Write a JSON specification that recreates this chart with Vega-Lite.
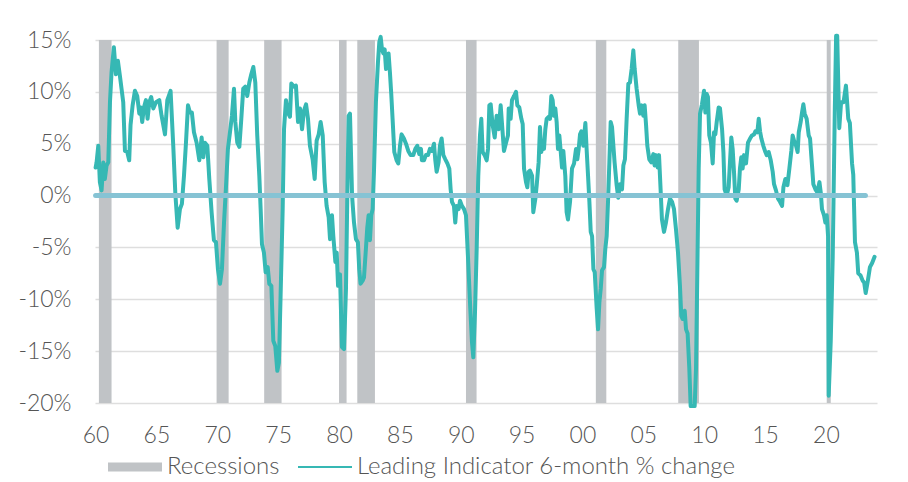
{
  "$schema": "https://vega.github.io/schema/vega-lite/v6.json",
  "width": 782,
  "height": 363,
  "autosize": "none",
  "padding": {"left": 95, "top": 40, "right": 31, "bottom": 79},
  "background": "white",
  "config": {
    "view": {"stroke": null},
    "font": "Lato",
    "axis": {"labelFont": "Lato", "labelFontWeight": 300, "labelColor": "#555555", "labelFontSize": 23},
    "legend": {"labelFont": "Lato", "labelFontWeight": 300}
  },
  "datasets": {
    "recessions": [
      {"start": 1960.27, "end": 1961.31},
      {"start": 1969.94, "end": 1970.93},
      {"start": 1973.85, "end": 1975.28},
      {"start": 1980.0, "end": 1980.62},
      {"start": 1981.5, "end": 1982.95},
      {"start": 1990.43, "end": 1991.3},
      {"start": 2001.1, "end": 2001.96},
      {"start": 2007.87, "end": 2009.57},
      {"start": 2020.07, "end": 2020.4}
    ],
    "lei": [
      {"t": 1960.0, "v": 2.7}, {"t": 1960.08, "v": 3.2}, {"t": 1960.22, "v": 4.8}, {"t": 1960.35, "v": 1.3},
      {"t": 1960.49, "v": 0.5}, {"t": 1960.63, "v": 3.2}, {"t": 1960.76, "v": 1.6}, {"t": 1960.9, "v": 2.9},
      {"t": 1961.04, "v": 3.2}, {"t": 1961.18, "v": 9.0}, {"t": 1961.31, "v": 11.9}, {"t": 1961.5, "v": 14.3},
      {"t": 1961.67, "v": 11.7}, {"t": 1961.83, "v": 13.0}, {"t": 1961.99, "v": 11.6}, {"t": 1962.13, "v": 10.3},
      {"t": 1962.27, "v": 9.0}, {"t": 1962.41, "v": 4.3}, {"t": 1962.6, "v": 4.2}, {"t": 1962.76, "v": 3.4},
      {"t": 1962.87, "v": 6.8}, {"t": 1963.04, "v": 8.7}, {"t": 1963.23, "v": 10.1}, {"t": 1963.42, "v": 9.6},
      {"t": 1963.59, "v": 7.9}, {"t": 1963.7, "v": 8.5}, {"t": 1963.83, "v": 7.1}, {"t": 1963.97, "v": 8.5},
      {"t": 1964.13, "v": 9.2}, {"t": 1964.27, "v": 7.4}, {"t": 1964.41, "v": 9.0}, {"t": 1964.57, "v": 9.5},
      {"t": 1964.74, "v": 8.4}, {"t": 1964.96, "v": 9.0}, {"t": 1965.23, "v": 9.2}, {"t": 1965.42, "v": 7.7},
      {"t": 1965.7, "v": 5.9}, {"t": 1965.89, "v": 9.2}, {"t": 1966.16, "v": 10.1}, {"t": 1966.38, "v": 4.8},
      {"t": 1966.55, "v": 0.2}, {"t": 1966.74, "v": -3.1}, {"t": 1966.93, "v": -1.3}, {"t": 1967.09, "v": -0.8},
      {"t": 1967.26, "v": 1.9}, {"t": 1967.42, "v": 5.0}, {"t": 1967.59, "v": 8.7}, {"t": 1967.75, "v": 8.0},
      {"t": 1967.91, "v": 8.0}, {"t": 1968.08, "v": 6.1}, {"t": 1968.3, "v": 5.1}, {"t": 1968.52, "v": 3.4},
      {"t": 1968.71, "v": 5.6}, {"t": 1968.85, "v": 3.7}, {"t": 1968.98, "v": 5.1}, {"t": 1969.18, "v": 4.8},
      {"t": 1969.34, "v": 1.6}, {"t": 1969.53, "v": -1.6}, {"t": 1969.72, "v": -4.3}, {"t": 1969.89, "v": -4.5},
      {"t": 1970.05, "v": -7.1}, {"t": 1970.22, "v": -8.5}, {"t": 1970.38, "v": -7.1}, {"t": 1970.55, "v": -2.6},
      {"t": 1970.71, "v": 0.8}, {"t": 1970.87, "v": 4.5}, {"t": 1971.04, "v": 6.1}, {"t": 1971.2, "v": 7.7},
      {"t": 1971.37, "v": 10.3}, {"t": 1971.48, "v": 7.1}, {"t": 1971.64, "v": 5.1}, {"t": 1971.81, "v": 4.7},
      {"t": 1971.97, "v": 7.4}, {"t": 1972.13, "v": 10.3}, {"t": 1972.3, "v": 10.5}, {"t": 1972.46, "v": 9.6},
      {"t": 1972.63, "v": 10.9}, {"t": 1972.79, "v": 11.7}, {"t": 1972.96, "v": 12.4}, {"t": 1973.12, "v": 10.9},
      {"t": 1973.28, "v": 5.8}, {"t": 1973.45, "v": 1.9}, {"t": 1973.56, "v": -1.3}, {"t": 1973.67, "v": -4.7},
      {"t": 1973.83, "v": -5.5}, {"t": 1973.97, "v": -7.4}, {"t": 1974.14, "v": -6.9}, {"t": 1974.27, "v": -8.5},
      {"t": 1974.44, "v": -8.7}, {"t": 1974.6, "v": -14.0}, {"t": 1974.76, "v": -14.5}, {"t": 1974.93, "v": -16.9},
      {"t": 1975.06, "v": -16.1}, {"t": 1975.2, "v": -9.6}, {"t": 1975.37, "v": -1.3}, {"t": 1975.48, "v": 6.4},
      {"t": 1975.64, "v": 9.2}, {"t": 1975.8, "v": 8.0}, {"t": 1975.97, "v": 7.6}, {"t": 1976.08, "v": 10.8},
      {"t": 1976.3, "v": 10.5}, {"t": 1976.46, "v": 10.6}, {"t": 1976.63, "v": 7.1}, {"t": 1976.79, "v": 8.4},
      {"t": 1976.96, "v": 6.4}, {"t": 1977.12, "v": 8.2}, {"t": 1977.29, "v": 8.8}, {"t": 1977.45, "v": 7.4},
      {"t": 1977.61, "v": 4.8}, {"t": 1977.83, "v": 3.5}, {"t": 1978.0, "v": 1.6}, {"t": 1978.16, "v": 5.3},
      {"t": 1978.33, "v": 5.9}, {"t": 1978.49, "v": 7.1}, {"t": 1978.66, "v": 5.8}, {"t": 1978.82, "v": 1.3},
      {"t": 1978.98, "v": -1.0}, {"t": 1979.15, "v": -2.1}, {"t": 1979.26, "v": -4.2}, {"t": 1979.42, "v": -1.9},
      {"t": 1979.53, "v": -3.9}, {"t": 1979.7, "v": -6.4}, {"t": 1979.81, "v": -5.5}, {"t": 1979.92, "v": -8.7},
      {"t": 1980.08, "v": -7.6}, {"t": 1980.24, "v": -14.6}, {"t": 1980.41, "v": -14.8}, {"t": 1980.57, "v": -9.0},
      {"t": 1980.68, "v": 0.0}, {"t": 1980.79, "v": 7.7}, {"t": 1980.9, "v": 7.9}, {"t": 1981.07, "v": 0.0},
      {"t": 1981.23, "v": -2.6}, {"t": 1981.39, "v": -4.2}, {"t": 1981.55, "v": -4.5}, {"t": 1981.66, "v": -7.1},
      {"t": 1981.77, "v": -8.5}, {"t": 1981.94, "v": -8.2}, {"t": 1982.05, "v": -7.9}, {"t": 1982.21, "v": -5.1},
      {"t": 1982.32, "v": -3.1}, {"t": 1982.43, "v": -1.9}, {"t": 1982.54, "v": -4.3}, {"t": 1982.65, "v": -1.9},
      {"t": 1982.76, "v": -1.3}, {"t": 1982.87, "v": 2.3}, {"t": 1983.03, "v": 9.0}, {"t": 1983.2, "v": 12.9},
      {"t": 1983.31, "v": 14.8}, {"t": 1983.42, "v": 15.3}, {"t": 1983.53, "v": 14.1}, {"t": 1983.64, "v": 13.7},
      {"t": 1983.75, "v": 14.1}, {"t": 1983.86, "v": 12.2}, {"t": 1983.96, "v": 12.7}, {"t": 1984.07, "v": 13.7},
      {"t": 1984.18, "v": 11.9}, {"t": 1984.29, "v": 9.8}, {"t": 1984.4, "v": 7.4}, {"t": 1984.54, "v": 4.2},
      {"t": 1984.73, "v": 3.4}, {"t": 1984.87, "v": 3.1}, {"t": 1985.01, "v": 4.8}, {"t": 1985.14, "v": 5.9},
      {"t": 1985.33, "v": 5.5}, {"t": 1985.5, "v": 5.0}, {"t": 1985.69, "v": 4.3}, {"t": 1985.88, "v": 3.9},
      {"t": 1986.1, "v": 3.9}, {"t": 1986.27, "v": 4.5}, {"t": 1986.43, "v": 4.8}, {"t": 1986.59, "v": 4.0},
      {"t": 1986.73, "v": 4.5}, {"t": 1986.81, "v": 3.4}, {"t": 1986.98, "v": 3.4}, {"t": 1987.14, "v": 3.9},
      {"t": 1987.31, "v": 3.9}, {"t": 1987.47, "v": 4.5}, {"t": 1987.64, "v": 4.3}, {"t": 1987.8, "v": 5.0},
      {"t": 1987.91, "v": 3.4}, {"t": 1988.02, "v": 2.3}, {"t": 1988.18, "v": 3.2}, {"t": 1988.29, "v": 4.8},
      {"t": 1988.43, "v": 5.5}, {"t": 1988.57, "v": 3.9}, {"t": 1988.73, "v": 3.5}, {"t": 1988.9, "v": 3.1},
      {"t": 1989.06, "v": 2.6}, {"t": 1989.17, "v": 0.6}, {"t": 1989.28, "v": -0.6}, {"t": 1989.44, "v": -1.0},
      {"t": 1989.55, "v": -2.6}, {"t": 1989.66, "v": -1.0}, {"t": 1989.83, "v": -1.3}, {"t": 1989.94, "v": -0.5},
      {"t": 1990.1, "v": -1.0}, {"t": 1990.27, "v": -1.3}, {"t": 1990.43, "v": -1.9}, {"t": 1990.59, "v": -5.8},
      {"t": 1990.76, "v": -10.3}, {"t": 1990.92, "v": -14.1}, {"t": 1991.03, "v": -15.6}, {"t": 1991.17, "v": -11.3},
      {"t": 1991.31, "v": -5.1}, {"t": 1991.44, "v": 1.9}, {"t": 1991.58, "v": 5.8}, {"t": 1991.69, "v": 7.4},
      {"t": 1991.8, "v": 4.2}, {"t": 1991.96, "v": 3.9}, {"t": 1992.13, "v": 3.4}, {"t": 1992.24, "v": 4.5},
      {"t": 1992.35, "v": 8.7}, {"t": 1992.46, "v": 8.8}, {"t": 1992.62, "v": 6.8}, {"t": 1992.79, "v": 5.6},
      {"t": 1992.95, "v": 7.7}, {"t": 1993.12, "v": 6.4}, {"t": 1993.28, "v": 8.7}, {"t": 1993.44, "v": 6.1},
      {"t": 1993.55, "v": 4.3}, {"t": 1993.72, "v": 5.1}, {"t": 1993.88, "v": 5.8}, {"t": 1993.94, "v": 8.4},
      {"t": 1994.1, "v": 7.4}, {"t": 1994.21, "v": 9.2}, {"t": 1994.38, "v": 9.6}, {"t": 1994.54, "v": 10.0},
      {"t": 1994.65, "v": 8.7}, {"t": 1994.81, "v": 8.5}, {"t": 1994.98, "v": 7.4}, {"t": 1995.09, "v": 6.9},
      {"t": 1995.2, "v": 2.6}, {"t": 1995.36, "v": 1.3}, {"t": 1995.47, "v": 0.8}, {"t": 1995.58, "v": 2.3},
      {"t": 1995.69, "v": 2.4}, {"t": 1995.86, "v": 1.9}, {"t": 1995.96, "v": -1.6}, {"t": 1996.13, "v": -0.3},
      {"t": 1996.24, "v": 1.0}, {"t": 1996.4, "v": 3.2}, {"t": 1996.51, "v": 6.6}, {"t": 1996.62, "v": 4.2},
      {"t": 1996.73, "v": 5.1}, {"t": 1996.84, "v": 4.5}, {"t": 1996.95, "v": 6.4}, {"t": 1997.06, "v": 7.4},
      {"t": 1997.22, "v": 7.6}, {"t": 1997.33, "v": 7.4}, {"t": 1997.44, "v": 9.6}, {"t": 1997.55, "v": 9.2},
      {"t": 1997.66, "v": 7.7}, {"t": 1997.77, "v": 8.4}, {"t": 1997.88, "v": 7.1}, {"t": 1997.99, "v": 4.5},
      {"t": 1998.1, "v": 5.8}, {"t": 1998.21, "v": 4.3}, {"t": 1998.32, "v": 2.7}, {"t": 1998.43, "v": 4.3},
      {"t": 1998.59, "v": 1.9}, {"t": 1998.7, "v": -1.6}, {"t": 1998.81, "v": -2.3}, {"t": 1998.98, "v": -0.6},
      {"t": 1999.14, "v": 2.6}, {"t": 1999.31, "v": 3.1}, {"t": 1999.47, "v": 4.5}, {"t": 1999.58, "v": 3.5},
      {"t": 1999.69, "v": 4.5}, {"t": 1999.8, "v": 5.9}, {"t": 1999.91, "v": 6.2}, {"t": 2000.07, "v": 4.8},
      {"t": 2000.24, "v": 7.0}, {"t": 2000.35, "v": 4.3}, {"t": 2000.46, "v": 1.9}, {"t": 2000.57, "v": -0.6},
      {"t": 2000.68, "v": -3.5}, {"t": 2000.79, "v": -3.9}, {"t": 2000.9, "v": -7.1}, {"t": 2001.01, "v": -7.4},
      {"t": 2001.17, "v": -10.9}, {"t": 2001.28, "v": -12.9}, {"t": 2001.39, "v": -10.3}, {"t": 2001.5, "v": -9.0},
      {"t": 2001.61, "v": -7.2}, {"t": 2001.77, "v": -6.9}, {"t": 2001.88, "v": -5.1}, {"t": 2001.99, "v": -3.9},
      {"t": 2002.1, "v": -0.6}, {"t": 2002.21, "v": 3.2}, {"t": 2002.32, "v": 7.1}, {"t": 2002.43, "v": 6.6},
      {"t": 2002.64, "v": 3.2}, {"t": 2002.81, "v": 1.0}, {"t": 2002.94, "v": -0.2}, {"t": 2003.08, "v": 1.1},
      {"t": 2003.25, "v": 0.6}, {"t": 2003.36, "v": 2.9}, {"t": 2003.49, "v": 3.5}, {"t": 2003.63, "v": 7.4},
      {"t": 2003.77, "v": 10.8}, {"t": 2003.9, "v": 10.9}, {"t": 2004.04, "v": 12.2}, {"t": 2004.18, "v": 14.0},
      {"t": 2004.29, "v": 12.2}, {"t": 2004.45, "v": 10.3}, {"t": 2004.62, "v": 8.7}, {"t": 2004.73, "v": 7.9},
      {"t": 2004.86, "v": 8.7}, {"t": 2005.0, "v": 7.7}, {"t": 2005.11, "v": 8.7}, {"t": 2005.22, "v": 6.9},
      {"t": 2005.33, "v": 4.8}, {"t": 2005.49, "v": 3.5}, {"t": 2005.66, "v": 3.2}, {"t": 2005.82, "v": 4.0},
      {"t": 2005.93, "v": 2.9}, {"t": 2006.04, "v": 3.9}, {"t": 2006.18, "v": 2.7}, {"t": 2006.29, "v": 3.9},
      {"t": 2006.42, "v": 0.6}, {"t": 2006.53, "v": -2.3}, {"t": 2006.7, "v": -3.5}, {"t": 2006.86, "v": -2.6},
      {"t": 2007.03, "v": -1.3}, {"t": 2007.19, "v": -0.3}, {"t": 2007.36, "v": -0.6}, {"t": 2007.52, "v": -1.3},
      {"t": 2007.68, "v": -3.2}, {"t": 2007.85, "v": -5.5}, {"t": 2008.01, "v": -8.7}, {"t": 2008.12, "v": -11.6},
      {"t": 2008.23, "v": -11.9}, {"t": 2008.4, "v": -11.1}, {"t": 2008.51, "v": -12.9}, {"t": 2008.64, "v": -13.3},
      {"t": 2008.78, "v": -16.7}, {"t": 2008.89, "v": -20.3}, {"t": 2009.05, "v": -20.3}, {"t": 2009.22, "v": -20.3},
      {"t": 2009.33, "v": -16.7}, {"t": 2009.44, "v": -7.1}, {"t": 2009.55, "v": 2.6}, {"t": 2009.66, "v": 7.9},
      {"t": 2009.82, "v": 8.8}, {"t": 2009.99, "v": 10.1}, {"t": 2010.1, "v": 8.0}, {"t": 2010.21, "v": 9.8},
      {"t": 2010.31, "v": 9.5}, {"t": 2010.42, "v": 5.8}, {"t": 2010.56, "v": 5.1}, {"t": 2010.7, "v": 3.1},
      {"t": 2010.81, "v": 6.1}, {"t": 2010.92, "v": 5.9}, {"t": 2011.03, "v": 7.1}, {"t": 2011.19, "v": 8.5},
      {"t": 2011.3, "v": 8.4}, {"t": 2011.47, "v": 6.4}, {"t": 2011.58, "v": 4.2}, {"t": 2011.68, "v": 0.6},
      {"t": 2011.85, "v": 0.0}, {"t": 2012.01, "v": 0.8}, {"t": 2012.12, "v": 3.2}, {"t": 2012.23, "v": 5.6},
      {"t": 2012.34, "v": 4.5}, {"t": 2012.45, "v": 2.3}, {"t": 2012.56, "v": -0.3}, {"t": 2012.67, "v": -0.5},
      {"t": 2012.84, "v": 0.6}, {"t": 2012.94, "v": 2.6}, {"t": 2013.05, "v": 3.7}, {"t": 2013.16, "v": 2.6},
      {"t": 2013.27, "v": 3.9}, {"t": 2013.44, "v": 3.1}, {"t": 2013.6, "v": 5.1}, {"t": 2013.77, "v": 5.5},
      {"t": 2013.93, "v": 5.8}, {"t": 2014.1, "v": 5.9}, {"t": 2014.21, "v": 6.2}, {"t": 2014.37, "v": 6.1},
      {"t": 2014.48, "v": 7.4}, {"t": 2014.59, "v": 6.2}, {"t": 2014.7, "v": 5.5}, {"t": 2014.86, "v": 4.8},
      {"t": 2015.03, "v": 4.2}, {"t": 2015.14, "v": 3.9}, {"t": 2015.3, "v": 4.2}, {"t": 2015.47, "v": 3.4},
      {"t": 2015.63, "v": 2.3}, {"t": 2015.74, "v": 1.1}, {"t": 2015.9, "v": 0.5}, {"t": 2016.07, "v": -0.3},
      {"t": 2016.23, "v": -0.6}, {"t": 2016.4, "v": -1.0}, {"t": 2016.51, "v": 0.8}, {"t": 2016.67, "v": 1.6},
      {"t": 2016.84, "v": 1.0}, {"t": 2017.0, "v": 2.6}, {"t": 2017.16, "v": 4.3}, {"t": 2017.27, "v": 5.8},
      {"t": 2017.38, "v": 5.3}, {"t": 2017.55, "v": 4.8}, {"t": 2017.68, "v": 4.2}, {"t": 2017.77, "v": 6.1},
      {"t": 2017.93, "v": 7.1}, {"t": 2018.04, "v": 8.0}, {"t": 2018.15, "v": 8.8}, {"t": 2018.26, "v": 7.9},
      {"t": 2018.42, "v": 7.4}, {"t": 2018.59, "v": 5.8}, {"t": 2018.7, "v": 5.5}, {"t": 2018.86, "v": 2.9},
      {"t": 2018.97, "v": 1.1}, {"t": 2019.14, "v": 0.6}, {"t": 2019.3, "v": 0.3}, {"t": 2019.47, "v": 1.3},
      {"t": 2019.58, "v": 0.3}, {"t": 2019.68, "v": -1.3}, {"t": 2019.85, "v": -1.9}, {"t": 2019.96, "v": -2.6},
      {"t": 2020.07, "v": -1.9}, {"t": 2020.18, "v": -3.9}, {"t": 2020.23, "v": -19.3}, {"t": 2020.4, "v": -14.0},
      {"t": 2020.56, "v": -6.0}, {"t": 2020.73, "v": 8.0}, {"t": 2020.84, "v": 15.4}, {"t": 2020.93, "v": 15.4},
      {"t": 2021.1, "v": 6.5}, {"t": 2021.25, "v": 9.0}, {"t": 2021.45, "v": 9.0}, {"t": 2021.65, "v": 10.6},
      {"t": 2021.84, "v": 7.4}, {"t": 2021.97, "v": 7.0}, {"t": 2022.15, "v": 3.1}, {"t": 2022.25, "v": 2.0},
      {"t": 2022.39, "v": -4.5}, {"t": 2022.55, "v": -5.5}, {"t": 2022.66, "v": -7.5}, {"t": 2022.85, "v": -7.7},
      {"t": 2023.02, "v": -8.2}, {"t": 2023.15, "v": -8.4}, {"t": 2023.27, "v": -9.4}, {"t": 2023.45, "v": -8.2},
      {"t": 2023.62, "v": -6.9}, {"t": 2023.8, "v": -6.5}, {"t": 2024.0, "v": -5.9}
    ],
    "zero": [{"start": 1960.0, "end": 2023.25, "v": 0}]
  },
  "encoding": {
    "x": {
      "type": "quantitative",
      "scale": {"domain": [1959.95, 2024.2], "nice": false, "zero": false},
      "axis": {
        "title": null,
        "values": [1960, 1965, 1970, 1975, 1980, 1985, 1990, 1995, 2000, 2005, 2010, 2015, 2020],
        "labelExpr": "substring(toString(datum.value), 2, 4)",
        "grid": false, "domain": false, "ticks": false, "tickSize": 0,
        "labelPadding": 21, "labelFlush": false, "labelOverlap": false
      }
    },
    "y": {
      "type": "quantitative",
      "scale": {"domain": [-20, 15], "nice": false, "zero": false},
      "axis": {
        "title": null,
        "values": [-20, -15, -10, -5, 0, 5, 10, 15],
        "labelExpr": "datum.value + '%'",
        "grid": true, "gridColor": "#dedede", "gridWidth": 1.6,
        "domain": false, "ticks": false, "tickSize": 0,
        "labelPadding": 24, "labelFlush": false, "labelOverlap": false
      }
    }
  },
  "layer": [
    {
      "data": {"name": "recessions"},
      "mark": {"type": "rect", "fill": "#c0c3c6"},
      "encoding": {
        "x": {"field": "start"},
        "x2": {"field": "end"},
        "y": null,
        "color": {
          "datum": "Recessions",
          "scale": {"domain": ["Recessions", "Leading Indicator 6-month % change"], "range": ["#c0c3c6", "#36b8b4"]},
          "legend": {
            "title": null,
            "orient": "none",
            "legendX": 13,
            "legendY": 400,
            "direction": "horizontal",
            "symbolSize": 2916,
            "labelFontSize": 24,
            "labelColor": "#555555",
            "labelOffset": 5,
            "labelLimit": 0,
            "columnPadding": 18,
            "encode": {
              "symbols": {
                "update": {
                  "shape": {"signal": "datum.value === 'Recessions' ? 'M-1,-0.17H1V0.17H-1Z' : 'M-1,-0.036H1V0.036H-1Z'"},
                  "fill": {"signal": "datum.value === 'Recessions' ? '#c0c3c6' : '#36b8b4'"},
                  "stroke": {"value": "transparent"},
                  "strokeWidth": {"value": 0},
                  "opacity": {"value": 1},
                  "fillOpacity": {"value": 1}
                }
              }
            }
          }
        }
      }
    },
    {
      "data": {"name": "lei"},
      "mark": {"type": "line", "strokeWidth": 4, "strokeJoin": "round", "strokeCap": "round"},
      "encoding": {
        "x": {"field": "t"},
        "y": {"field": "v"},
        "color": {"datum": "Leading Indicator 6-month % change"}
      }
    },
    {
      "data": {"name": "zero"},
      "mark": {"type": "rule", "stroke": "#86c3d4", "strokeWidth": 5, "strokeCap": "round"},
      "encoding": {
        "x": {"field": "start"},
        "x2": {"field": "end"},
        "y": {"field": "v"}
      }
    }
  ]
}
